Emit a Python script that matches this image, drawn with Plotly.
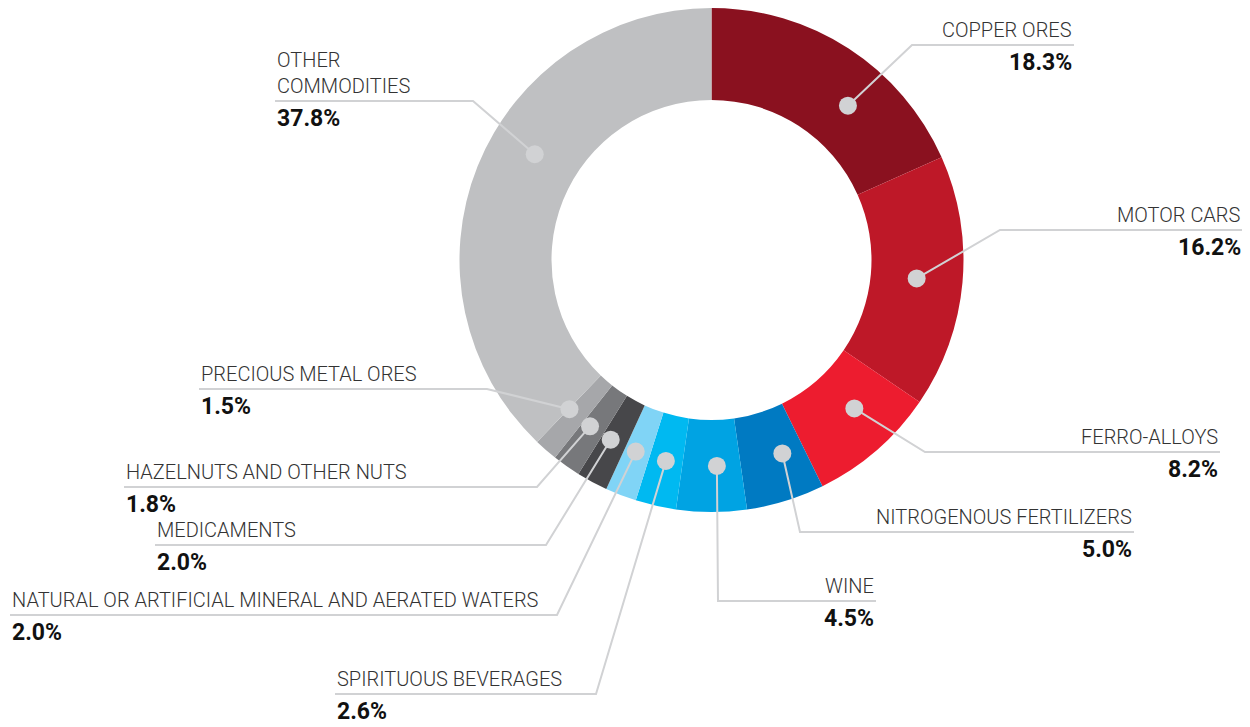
import math
import plotly.graph_objects as go

# slices, clockwise from 12 o'clock
labels = [
    "COPPER ORES", "MOTOR CARS", "FERRO-ALLOYS", "NITROGENOUS FERTILIZERS", "WINE",
    "SPIRITUOUS BEVERAGES", "NATURAL OR ARTIFICIAL MINERAL AND AERATED WATERS",
    "MEDICAMENTS", "HAZELNUTS AND OTHER NUTS", "PRECIOUS METAL ORES",
    "OTHER<br>COMMODITIES",
]
shares = [18.3, 16.2, 8.2, 5.0, 4.5, 2.6, 2.0, 2.0, 1.8, 1.5, 37.8]
colors = [
    "#8A111F", "#BE1828", "#ED1C2F", "#007AC2", "#00A3E3",
    "#00B9F1", "#80D4F6", "#47474A", "#77787B", "#A6A7AA", "#BFC0C2",
]

# label layout (page pixels): elbow of leader line, end of the horizontal rule, side
elbow_x = [912, 1000, 925, 800, 718, 596, 557, 546, 537, 487, 473]
elbow_y = [45, 230, 452, 532, 601, 694, 615, 545, 487, 389, 101]
rule_end = [1074, 1243, 1220, 1134, 876, 335, 10, 155, 124, 199, 275]
side = ["right"] * 5 + ["left"] * 6
# small angular nudge (deg) of each label dot away from the slice middle
dot_nudge = [8.5, 0, -3, -3, -1.5, 0, 0.5, 1, 1, 2.5, 9]

# the page body has an 8px margin, so the figure starts at (8, 8)
OFF = 8
W, H = 1250 - OFF, 727 - OFF
cx, cy = 711.5, 260.0
r_out, r_in = 252.0, 160.0
r_dot = (r_out + r_in) / 2
line_col = "#D1D2D4"

fig = go.Figure()

y_top = min(1.0, 1 - (cy - OFF - r_out) / H)
fig.add_trace(go.Pie(
    values=shares,
    labels=labels,
    sort=False,
    direction="clockwise",
    rotation=0,
    hole=r_in / r_out,
    marker=dict(colors=colors, line=dict(width=0)),
    textinfo="none",
    hoverinfo="skip",
    showlegend=False,
    domain=dict(x=[(cx - OFF - r_out) / W, (cx - OFF + r_out) / W],
                y=[y_top - 2 * r_out / H, y_top]),
))

# invisible trace so the pixel axes exist
fig.add_trace(go.Scatter(x=[OFF, OFF + W], y=[OFF, OFF + H], mode="markers",
                         marker=dict(opacity=0), hoverinfo="skip", showlegend=False))

total = sum(shares)
cum = 0
for i, v in enumerate(shares):
    ang = math.radians((cum + v / 2) / total * 360 + dot_nudge[i])
    cum += v
    dx = cx + r_dot * math.sin(ang)
    dy = cy - r_dot * math.cos(ang)
    ex, ey, lx = elbow_x[i], elbow_y[i], rule_end[i]
    fig.add_shape(type="path", xref="x", yref="y", layer="above",
                  path=f"M {dx},{dy} L {ex},{ey} L {lx},{ey}",
                  line=dict(color=line_col, width=2))
    fig.add_shape(type="circle", xref="x", yref="y", layer="above",
                  x0=dx - 9, x1=dx + 9, y0=dy - 9, y1=dy + 9,
                  fillcolor=line_col, line=dict(width=0))
    fig.add_annotation(x=lx, y=ey - 1, xref="x", yref="y", text=labels[i],
                       showarrow=False, xanchor=side[i], yanchor="bottom",
                       align=side[i],
                       font=dict(family="Roboto", size=20, color="#333333", weight=300))
    fig.add_annotation(x=lx, y=ey + 2, xref="x", yref="y", text=f"{v:.1f}%",
                       showarrow=False, xanchor=side[i], yanchor="top",
                       font=dict(family="Roboto", size=23, color="#111111", weight=700))

fig.update_layout(
    width=W, height=H,
    margin=dict(l=0, r=0, t=0, b=0),
    paper_bgcolor="white", plot_bgcolor="rgba(0,0,0,0)",
    xaxis=dict(range=[OFF, OFF + W], visible=False, fixedrange=True),
    yaxis=dict(range=[OFF + H, OFF], visible=False, fixedrange=True),
)

fig.write_html("out.html")
